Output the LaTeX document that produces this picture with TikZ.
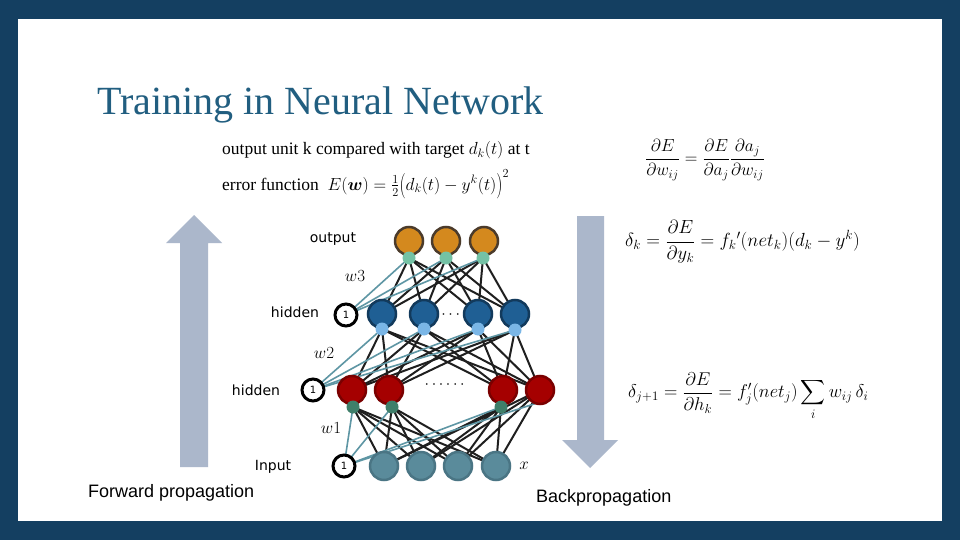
\RequirePackage{fix-cm}
\documentclass[tikz,border=0pt]{standalone}
\usepackage{amsmath,bm}
\usepackage{fontspec}
\setmainfont{Liberation Serif}
\newfontfamily\arialf{Liberation Sans}
\newfontfamily\labf{DejaVu Sans}
\pgfdeclarelayer{back}
\pgfdeclarelayer{bg}
\pgfsetlayers{back,bg,main}
\definecolor{frameblue}{RGB}{20,63,97}
\definecolor{titleblue}{RGB}{33,94,128}
\definecolor{arrowgray}{RGB}{171,183,203}
\definecolor{orangefill}{RGB}{212,137,30}
\definecolor{orangeedge}{RGB}{75,59,43}
\definecolor{mint}{RGB}{116,194,165}
\definecolor{bluefill}{RGB}{31,95,148}
\definecolor{blueedge}{RGB}{18,58,92}
\definecolor{lightblue}{RGB}{122,182,230}
\definecolor{redfill}{RGB}{165,0,0}
\definecolor{rededge}{RGB}{122,0,0}
\definecolor{darkgreen}{RGB}{63,127,106}
\definecolor{infill}{RGB}{90,139,155}
\definecolor{inedge}{RGB}{74,117,132}
\definecolor{tealline}{RGB}{94,150,164}
\newcommand{\tallparen}[1]{\raisebox{-2pt}{\scalebox{1}[1.45]{$#1$}}}
\tikzset{
  unit/.style={circle,minimum size=28pt,inner sep=0pt,line width=2.5pt},
  onode/.style={unit,fill=orangefill,draw=orangeedge},
  h2node/.style={unit,fill=bluefill,draw=blueedge},
  h1node/.style={unit,fill=redfill,draw=rededge},
  innode/.style={unit,fill=infill,draw=inedge},
  sdot/.style={circle,minimum size=13pt,inner sep=0pt},
  odot/.style={sdot,fill=mint},
  h2dot/.style={sdot,fill=lightblue},
  h1dot/.style={sdot,fill=darkgreen},
  bias/.style={circle,minimum size=22pt,inner sep=0pt,line width=3pt,draw=black,fill=white,font=\labf\fontsize{10}{11}\selectfont},
  bline/.style={line width=2pt,draw=black!88},
  wline/.style={line width=1.6pt,draw=tealline},
  lab/.style={font=\labf\fontsize{14}{16}\selectfont},
  wlab/.style={font=\fontsize{17}{19}\selectfont\itshape},
  bigtxt/.style={font=\arialf\fontsize{18}{20}\selectfont},
  fml/.style={font=\fontsize{17.5}{21}\selectfont,anchor=west,inner sep=0pt},
  fmlb/.style={font=\fontsize{18.5}{22}\selectfont,anchor=west,inner sep=0pt}
}
\begin{document}
\begin{tikzpicture}[x=1pt,y=-1pt]
\useasboundingbox (0,0) rectangle (960,540);
\begin{pgfonlayer}{back}
\fill[frameblue] (0,0) rectangle (960,540);
\fill[white] (18,19) rectangle (942,521);
\end{pgfonlayer}
% title
\node[anchor=base west,inner sep=0pt,text=titleblue,font=\fontsize{40}{44}\selectfont] (title) at (97,115) {Training in Neural Network};
% top formulas
\node[fml,anchor=base west] (t1) at (222,155) {output unit k compared with target $d_k(t)$ at t};
\node[fml,anchor=base west] (t2) at (222,190) {error function\enspace $E(\bm{w})=\tfrac{1}{2}\tallparen{(}d_k(t)-y^k(t)\tallparen{)}^{2}$};
\node[fml] (f1) at (645,160) {$\dfrac{\partial E}{\partial w_{ij}}=\dfrac{\partial E}{\partial a_j}\dfrac{\partial a_j}{\partial w_{ij}}$};
\node[fmlb,font=\fontsize{19}{23}\selectfont] (f2) at (625,242) {$\delta_k=\dfrac{\partial E}{\partial y_k}=f_k{}'(net_k)(d_k-y^k)$};
\node[fmlb] (f3) at (628,396) {$\delta_{j+1}=\dfrac{\partial E}{\partial h_k}=f_j'(net_j)\displaystyle\sum_i w_{ij}\,\delta_i$};
% arrows
\fill[arrowgray] (194,215) -- (222,243) -- (208,243) -- (208,467) -- (180,467) -- (180,243) -- (166,243) -- cycle;
\fill[arrowgray] (577,216) -- (604,216) -- (604,440) -- (618,440) -- (590,468) -- (562,440) -- (577,440) -- cycle;
\node[bigtxt,anchor=base west,inner sep=0pt] (fp) at (88,497) {Forward propagation};
\node[bigtxt,anchor=base west,inner sep=0pt] (bp) at (536,502) {Backpropagation};
% output layer
\node[onode] (o1) at (409,241) {};
\node[onode] (o2) at (446,241) {};
\node[onode] (o3) at (484,241) {};
\node[odot] (od1) at (409,258) {};
\node[odot] (od2) at (446,258) {};
\node[odot] (od3) at (483,258) {};
% hidden 2
\node[bias] (b2) at (346,315) {1};
\node[h2node] (h2a) at (382,314) {};
\node[h2node] (h2b) at (424,314) {};
\node[h2node] (h2c) at (478,314) {};
\node[h2node] (h2d) at (515,314) {};
\node[h2dot] (h2da) at (382,329) {};
\node[h2dot] (h2db) at (424,329) {};
\node[h2dot] (h2dc) at (478,329) {};
\node[h2dot] (h2dd) at (515,330) {};
% hidden 1
\node[bias] (b1) at (313,390) {1};
\node[h1node] (h1a) at (352,390) {};
\node[h1node] (h1b) at (389,390) {};
\node[h1node] (h1c) at (503,390) {};
\node[h1node] (h1d) at (540,390) {};
\node[h1dot] (h1da) at (353,407) {};
\node[h1dot] (h1db) at (392,407) {};
\node[h1dot] (h1dc) at (501,407) {};
% input
\node[bias] (b0) at (344,466) {1};
\node[innode] (i1) at (384,466) {};
\node[innode] (i2) at (421,466) {};
\node[innode] (i3) at (458,466) {};
\node[innode] (i4) at (496,466) {};
% labels
\node[lab] (lo) at (333,239) {output};
\node[lab] (lh2) at (295,312) {hidden};
\node[lab] (lh1) at (256,390) {hidden};
\node[lab] (lin) at (273,467) {Input};
\node[wlab] (w3) at (355,276) {$w3$};
\node[wlab] (w2) at (324,353) {$w2$};
\node[wlab] (w1) at (331,428) {$w1$};
\node[wlab] (x) at (524,466) {$x$};
\node[font=\fontsize{16}{16}\selectfont] (dd2) at (452,315) {$\cdots$};
\node[font=\fontsize{16}{16}\selectfont] (dd1) at (446,385) {$\cdots\cdots$};
% connections
\begin{pgfonlayer}{bg}
\foreach \d in {od1,od2,od3}
  \foreach \n in {h2a,h2b,h2c,h2d}
    \draw[bline] (\d.center) -- (\n.center);
\foreach \d in {h2da,h2db,h2dc,h2dd}
  \foreach \n in {h1a,h1b,h1c,h1d}
    \draw[bline] (\d.center) -- (\n.center);
\foreach \d in {h1da,h1db,h1dc,h1d}
  \foreach \n in {i1,i2,i3,i4}
    \draw[bline] (\d.center) -- (\n.center);
\foreach \d in {od1,od2,od3}
  \draw[wline] (b2.center) -- (\d.center);
\foreach \d in {h2da,h2db,h2dc,h2dd}
  \draw[wline] (b1.center) -- (\d.center);
\draw[wline] (b0.center) -- (h1da.center);
\draw[wline] (b0.center) -- (h1db.center);
\draw[wline] (b0.center) -- (h1dc.center);
\draw[wline] (b0.center) -- ([yshift=-12pt]h1d.center);
\end{pgfonlayer}
\end{tikzpicture}
\end{document}
